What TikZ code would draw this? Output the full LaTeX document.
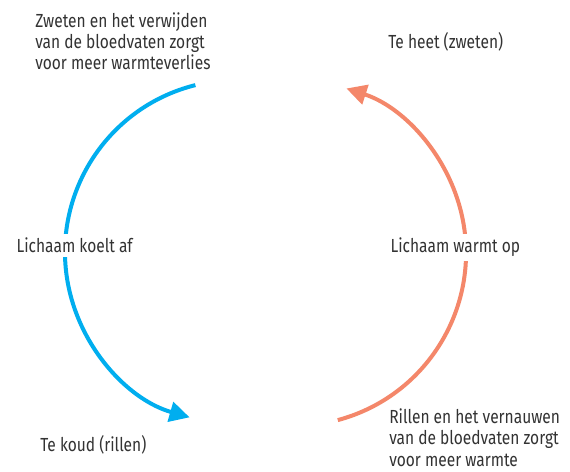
\documentclass[tikz,border=0pt]{standalone}
\usepackage{fontspec}
\setmainfont{Fira Sans}[FakeStretch=0.82]
\usetikzlibrary{arrows.meta}
\definecolor{txt}{HTML}{333333}
\definecolor{coolblue}{HTML}{00AEEF}
\definecolor{warmorange}{HTML}{F4876A}
\tikzset{
  lbl/.style={text=txt, font=\fontsize{14.2}{15.8}\selectfont, inner sep=0pt, align=left, anchor=base west},
  midlbl/.style={lbl, fill=white, inner xsep=1pt, inner ysep=3pt},
  cyc/.style={line width=3pt, -{Triangle[length=15pt,width=15pt]}}
}
\begin{document}
\begin{tikzpicture}[x=0.75pt,y=0.75pt]
\fill[white] (0,0) rectangle (570,471);
\useasboundingbox (0,0) rectangle (570,471);
% arcs
\draw[cyc, coolblue] (237,219) ++(104:172) coordinate (bs) arc[start angle=104, end angle=254, radius=172] coordinate (be);
\draw[cyc, warmorange] (293,218) ++(-75:173) coordinate (os) arc[start angle=-75, end angle=72, radius=173] coordinate (oe);
% labels
\node[lbl] (tl) at (35,401) {Zweten en het verwijden\\van de bloedvaten zorgt\\voor meer warmteverlies};
\node[lbl] (tr) at (388,422) {Te heet (zweten)};
\node[midlbl] (ml) at (15,218) {Lichaam koelt af};
\node[midlbl] (mr) at (389,218) {Lichaam warmt op};
\node[lbl] (bl) at (40,20) {Te koud (rillen)};
\node[lbl] (br) at (389,5) {Rillen en het vernauwen\\van de bloedvaten zorgt\\voor meer warmte};
\end{tikzpicture}
\end{document}
